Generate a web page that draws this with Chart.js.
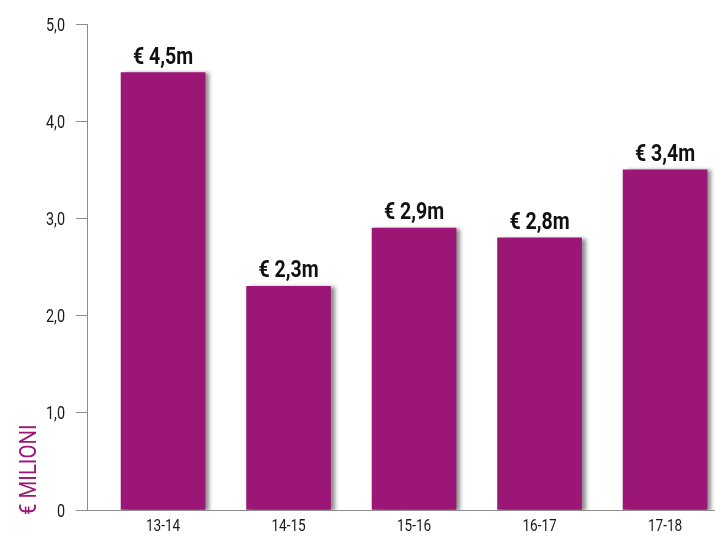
<!DOCTYPE html>
<html>
<head>
<meta charset="utf-8">
<script src="https://cdn.jsdelivr.net/npm/chart.js@4"></script>
<style>
  html, body { margin: 0; padding: 0; background: #fff; }
  #wrap { width: 715px; height: 541px; position: relative; }
</style>
</head>
<body>
<div id="wrap"><canvas id="chart" width="715" height="541"></canvas></div>
<script>
// bar chart, values in millions of euro per season
const seasons = ['13-14', '14-15', '15-16', '16-17', '17-18'];
const values = [4.5, 2.3, 2.9, 2.8, 3.5];
const valueLabels = ['€ 4,5m', '€ 2,3m', '€ 2,9m', '€ 2,8m', '€ 3,4m'];
const yTicks = [0, 1, 2, 3, 4, 5];
const yTickLabels = ['0', '1,0', '2,0', '3,0', '4,0', '5,0'];

const purple = '#9b1675';
const axisGrey = '#8c8c8c';
const fontFam = 'Roboto, "DejaVu Sans", sans-serif';

// no condensed font installed, so squeeze text horizontally
function narrowText(ctx, text, x, y, font, sx, align) {
    ctx.save();
    ctx.font = font;
    ctx.translate(x, y);
    ctx.scale(sx, 1);
    ctx.textAlign = align;
    ctx.fillText(text, 0, 0);
    ctx.restore();
}

// gray shadow behind the bars
const barShadow = {
    id: 'barShadow',
    beforeDatasetsDraw(chart) {
        const ctx = chart.ctx;
        ctx.save();
        ctx.shadowColor = 'rgba(0,0,0,0.45)';
        ctx.shadowBlur = 4;
        ctx.shadowOffsetX = 4;
        ctx.shadowOffsetY = 1;
    },
    afterDatasetsDraw(chart) {
        chart.ctx.restore();
    }
};

// tick labels, value labels and the rotated axis title
const extras = {
    id: 'extras',
    afterDraw(chart) {
        const ctx = chart.ctx;
        const xs = chart.scales.x, ys = chart.scales.y;
        const meta = chart.getDatasetMeta(0);
        ctx.save();
        ctx.textBaseline = 'alphabetic';
        ctx.fillStyle = '#1a1a1a';
        yTicks.forEach((v, i) => {
            narrowText(ctx, yTickLabels[i], 65, ys.getPixelForValue(v) + 6.5, '18px ' + fontFam, 0.8, 'right');
        });
        seasons.forEach((s, i) => {
            narrowText(ctx, s, xs.getPixelForValue(i), 531, '17px ' + fontFam, 0.8, 'center');
        });
        ctx.fillStyle = '#111';
        meta.data.forEach((bar, i) => {
            narrowText(ctx, valueLabels[i], bar.x, bar.y - 9, 'bold 23px ' + fontFam, 0.85, 'center');
        });
        ctx.fillStyle = purple;
        ctx.translate(36, 515);
        ctx.rotate(-Math.PI / 2);
        narrowText(ctx, '€ MILIONI', 0, 0, '24px ' + fontFam, 0.85, 'left');
        ctx.restore();
    }
};

new Chart(document.getElementById('chart'), {
    type: 'bar',
    data: {
        datasets: [{
            data: values.map((v, i) => ({ x: i, y: v })),
            backgroundColor: purple,
            borderWidth: 0,
            barThickness: 84
        }]
    },
    options: {
        responsive: false,
        animation: false,
        layout: { padding: { top: 24, right: 0, left: 0, bottom: 0 } },
        plugins: {
            legend: { display: false },
            tooltip: { enabled: false }
        },
        scales: {
            x: {
                type: 'linear',
                offset: false,
                min: -0.606,
                max: 4.398,
                afterBuildTicks: (s) => { s.ticks = seasons.map((_, i) => ({ value: i })); },
                afterFit: (s) => { s.height = 31; },
                grid: { display: false },
                border: { display: true, color: axisGrey, width: 1 },
                ticks: { color: 'rgba(0,0,0,0)', font: { size: 17 } }
            },
            y: {
                min: 0,
                max: 5,
                afterBuildTicks: (s) => { s.ticks = yTicks.map(v => ({ value: v })); },
                afterFit: (s) => { s.width = 87; },
                grid: {
                    drawOnChartArea: false,
                    color: axisGrey,
                    tickLength: 11
                },
                border: { display: true, color: axisGrey, width: 1 },
                ticks: { color: 'rgba(0,0,0,0)', font: { size: 18 } }
            }
        }
    },
    plugins: [barShadow, extras]
});
</script>
</body>
</html>
